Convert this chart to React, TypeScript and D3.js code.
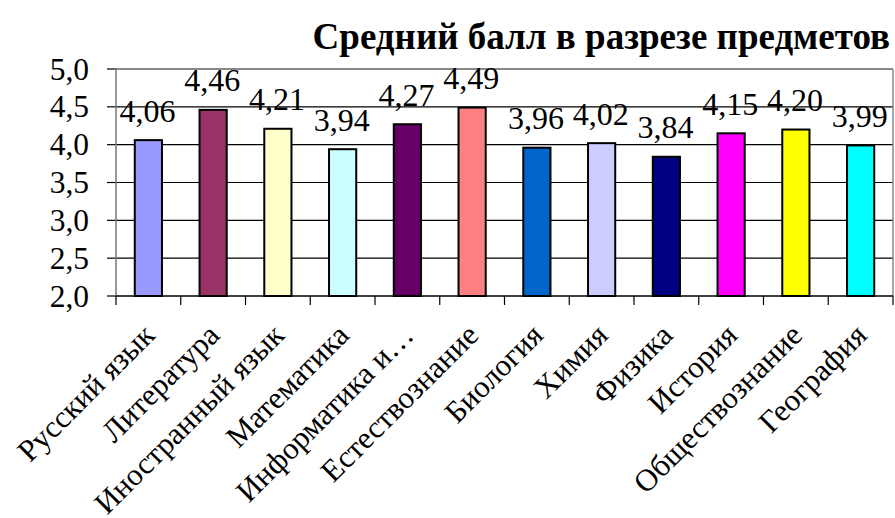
import React from "react";
import * as d3 from "d3";

const categories = [
  "Русский язык",
  "Литература",
  "Иностранный язык",
  "Математика",
  "Информатика и…",
  "Естествознание",
  "Биология",
  "Химия",
  "Физика",
  "История",
  "Обществознание",
  "География",
];
const values = [4.06, 4.46, 4.21, 3.94, 4.27, 4.49, 3.96, 4.02, 3.84, 4.15, 4.2, 3.99];
const colors = [
  "#9999FF", "#993366", "#FFFFCC", "#CCFFFF", "#660066", "#FF8080",
  "#0066CC", "#CCCCFF", "#000080", "#FF00FF", "#FFFF00", "#00FFFF",
];
const yTicks = [2.0, 2.5, 3.0, 3.5, 4.0, 4.5, 5.0];
const title = "Средний балл в разрезе предметов";

const W = 895;
const H = 518;
const left = 116;
const right = 893;
const top = 69;
const bottom = 296;
const font = "'Liberation Serif', Tinos, 'Times New Roman', Times, serif";

function T(props: any) {
  const { children, ...rest } = props;
  return <text {...rest} style={{ fontFamily: font }}>{children}</text>;
}

export default function App() {
  const x = d3.scaleBand<string>().domain(categories).range([left, right]).paddingInner(0.58).paddingOuter(0.29);
  const xb = d3.scaleBand<string>().domain(categories).range([left, right]);
  const y = d3.scaleLinear().domain([2, 5]).range([bottom, top]);
  const fmt = (v: number, d: number) => v.toFixed(d).replace(".", ",");

  return (
    <div style={{ fontFamily: font }}>
      <svg width={W} height={H} style={{ position: "absolute", left: 0, top: 0, background: "#fff" }}>
        <T x={890} y={49} textAnchor="end" fontSize={37} fontWeight="bold">{title}</T>
        {yTicks.map((t) => (
          <g key={t}>
            {t > 2 && t < 5 && <line x1={left} x2={right} y1={y(t)} y2={y(t)} stroke="#000" strokeWidth={1.2} />}
            <line x1={left - 9} x2={left} y1={y(t)} y2={y(t)} stroke="#000" strokeWidth={1.2} />
            <T x={89} y={y(t)} textAnchor="end" dominantBaseline="central" fontSize={31.5}>{fmt(t, 1)}</T>
          </g>
        ))}
        <line x1={left} x2={right} y1={top} y2={top} stroke="#888" strokeWidth={2} />
        <line x1={right} x2={right} y1={top} y2={bottom} stroke="#888" strokeWidth={1.5} />
        <line x1={left} x2={left} y1={top} y2={bottom} stroke="#777" strokeWidth={1.5} />
        {categories.map((c, i) => (
          <g key={c}>
            <rect x={x(c)} y={y(values[i])} width={x.bandwidth()} height={bottom - y(values[i])} fill={colors[i]} stroke="#000" strokeWidth={2} />
            <T x={x(c)! + x.bandwidth() / 2 - 1} y={y(values[i]) - 18.5} textAnchor="middle" fontSize={32}>{fmt(values[i], 2)}</T>
          </g>
        ))}
        <line x1={left} x2={right} y1={bottom} y2={bottom} stroke="#000" strokeWidth={1.5} />
        {d3.range(categories.length + 1).map((i) => {
          const xx = left + i * xb.bandwidth();
          return <line key={i} x1={xx} x2={xx} y1={bottom} y2={bottom + 9} stroke="#000" strokeWidth={1.2} />;
        })}
        {categories.map((c) => {
          const cx = xb(c)! + xb.bandwidth() / 2 + 8;
          const cy = 337;
          return (
            <T key={c} x={cx} y={cy} textAnchor="end" fontSize={31} transform={`rotate(-45 ${cx} ${cy})`}>{c}</T>
          );
        })}
      </svg>
    </div>
  );
}
